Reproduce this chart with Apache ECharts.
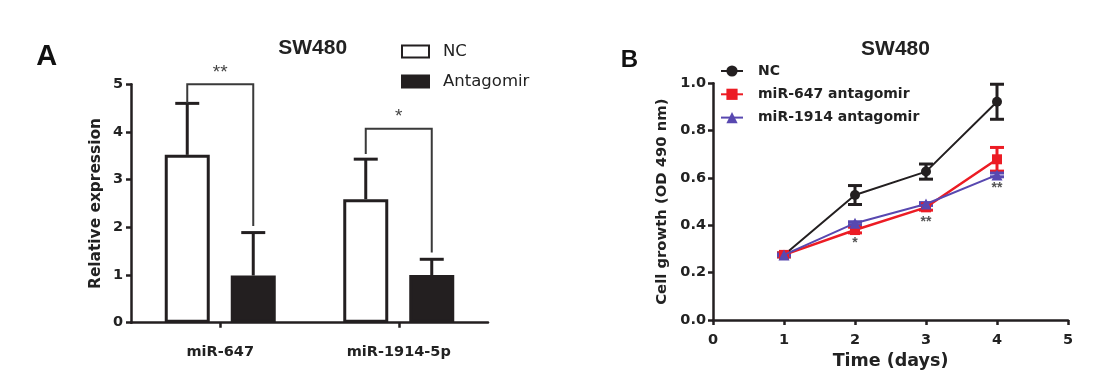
<!DOCTYPE html>
<html>
<head>
<meta charset="utf-8">
<script src="https://cdn.jsdelivr.net/npm/echarts@6/dist/echarts.min.js"></script>
<style>html,body{margin:0;padding:0;background:#fff}#c{width:1100px;height:391px}</style>
</head>
<body>
<div id="c"></div>
<script>
// ---------- Panel A data ----------
const categories = ['miR-647', 'miR-1914-5p'];
const ncMean = [3.52, 2.59];
const ncUpper = [4.60, 3.43];
const antMean = [0.99, 1.00];
const antUpper = [1.89, 1.33];
const yTicksA = [0, 1, 2, 3, 4, 5];
// significance brackets: top level, left leg end, right leg end, label
const bracketTop = [5.0, 4.07];
const bracketLeftEnd = [4.6, 3.54];
const bracketRightEnd = [2.03, 1.47];
const bracketStars = ['**', '*'];

// ---------- Panel B data ----------
const days = [1, 2, 3, 4];
const ncGrowth = [0.275, 0.528, 0.627, 0.922];
const ncSD = [0.008, 0.040, 0.032, 0.074];
const m647Growth = [0.275, 0.380, 0.476, 0.679];
const m647SD = [0.008, 0.012, 0.012, 0.050];
const m1914Growth = [0.275, 0.409, 0.490, 0.613];
const m1914SD = [0.004, 0.006, 0.006, 0.008];
const starDays = [2, 3, 4];
const starLevel = [0.325, 0.415, 0.556];
const starText = ['*', '**', '**'];

const FONT = '"DejaVu Sans", sans-serif';
const TFONT = '"Liberation Sans", Arial, sans-serif';
const BLACK = '#231f20';
const RED = '#ec1c24';
const BLUE = '#5848b0';
const TXT = '#222';

const barWidth = 45;
const barGapPx = 21;
const barOffset = (barWidth + barGapPx) / 2;

const chart = echarts.init(document.getElementById('c'));

function errA(side) {
  return function (params, api) {
    const cat = api.value(0);
    const p0 = api.coord([cat, api.value(1)]);
    const p1 = api.coord([cat, api.value(2)]);
    const x = p0[0] + side * barOffset;
    const cap = 12;
    return {
      type: 'group',
      children: [
        { type: 'line', shape: { x1: x, y1: p0[1], x2: x, y2: p1[1] }, style: { stroke: BLACK, lineWidth: 3 } },
        { type: 'line', shape: { x1: x - cap, y1: p1[1], x2: x + cap, y2: p1[1] }, style: { stroke: BLACK, lineWidth: 3 } }
      ]
    };
  };
}

function bracketRender(params, api) {
  const cat = api.value(0);
  const top = api.coord([cat, api.value(1)]);
  const l = api.coord([cat, api.value(2)]);
  const r = api.coord([cat, api.value(3)]);
  const xl = top[0] - barOffset;
  const xr = top[0] + barOffset;
  const st = { stroke: '#3a3a3a', lineWidth: 2, fill: null };
  return {
    type: 'group',
    children: [
      { type: 'polyline', shape: { points: [[xl, l[1]], [xl, top[1]], [xr, top[1]], [xr, r[1]]] }, style: st },
      { type: 'text', style: { text: bracketStars[params.dataIndex], x: top[0], y: top[1] - 2, align: 'center', verticalAlign: 'bottom', fill: '#444', font: '19px ' + TFONT } }
    ]
  };
}

function errB(color) {
  return function (params, api) {
    const x = api.value(0);
    const m = api.value(1);
    const sd = api.value(2);
    const a = api.coord([x, m + sd]);
    const b = api.coord([x, m - sd]);
    const cap = 7;
    const st = { stroke: color, lineWidth: 3 };
    return {
      type: 'group',
      children: [
        { type: 'line', shape: { x1: a[0], y1: a[1], x2: b[0], y2: b[1] }, style: st },
        { type: 'line', shape: { x1: a[0] - cap, y1: a[1], x2: a[0] + cap, y2: a[1] }, style: st },
        { type: 'line', shape: { x1: b[0] - cap, y1: b[1], x2: b[0] + cap, y2: b[1] }, style: st }
      ]
    };
  };
}

function starRender(params, api) {
  const p = api.coord([api.value(0), api.value(1)]);
  return { type: 'text', style: { text: starText[params.dataIndex], x: p[0], y: p[1], align: 'center', verticalAlign: 'middle', fill: '#555', font: 'bold 14px ' + TFONT } };
}

const axisLineStyle = { lineStyle: { color: BLACK, width: 2.5 } };
const axisTickStyle = { show: true, length: 5, lineStyle: { color: BLACK, width: 2.5 } };
const tickFont = { fontSize: 14.5, fontWeight: 'bold', color: TXT, fontFamily: FONT };

const option = {
  animation: false,
  backgroundColor: '#fff',
  textStyle: { fontFamily: FONT },
  title: [
    { text: 'SW480', left: 307.7, top: 32.5, textAlign: 'center', textStyle: { fontSize: 21, fontWeight: 'bold', color: TXT, fontFamily: TFONT } },
    { text: 'SW480', left: 890.5, top: 33.5, textAlign: 'center', textStyle: { fontSize: 21, fontWeight: 'bold', color: TXT, fontFamily: TFONT } }
  ],
  graphic: [
    { type: 'text', style: { text: 'A', x: 46.7, y: 57, align: 'center', verticalAlign: 'middle', font: 'bold 29px ' + TFONT, fill: '#111' } },
    { type: 'text', style: { text: 'B', x: 629.5, y: 60, align: 'center', verticalAlign: 'middle', font: 'bold 24px ' + TFONT, fill: '#111' } }
  ],
  legend: [
    {
      data: ['NC', 'Antagomir'], orient: 'vertical', left: 396, top: 38,
      itemWidth: 27, itemHeight: 12, itemGap: 13, icon: 'rect',
      textStyle: { fontSize: 16.5, color: TXT, padding: [0, 0, 0, 9], fontFamily: FONT }
    },
    {
      data: ['NC ', 'miR-647 antagomir', 'miR-1914 antagomir'], orient: 'vertical', left: 715, top: 59,
      itemWidth: 22, itemHeight: 14, itemGap: 9.3,
      textStyle: { fontSize: 14, fontWeight: 'bold', color: TXT, padding: [0, 0, 0, 10], fontFamily: FONT }
    }
  ],
  grid: [
    { left: 131, right: 612, top: 84.3, bottom: 68.3 },
    { left: 713, right: 32, top: 83.3, bottom: 71 }
  ],
  xAxis: [
    {
      type: 'category', gridIndex: 0, data: categories,
      axisLine: axisLineStyle,
      axisTick: Object.assign({ alignWithLabel: true }, axisTickStyle),
      axisLabel: Object.assign({ margin: 22 }, tickFont)
    },
    {
      type: 'value', gridIndex: 1, min: 0, max: 5, interval: 1,
      name: 'Time (days)', nameLocation: 'middle', nameGap: 31,
      nameTextStyle: { fontSize: 17.5, fontWeight: 'bold', color: TXT, fontFamily: FONT },
      axisLine: axisLineStyle, axisTick: axisTickStyle, splitLine: { show: false },
      axisLabel: Object.assign({ margin: 13 }, tickFont)
    }
  ],
  yAxis: [
    {
      type: 'value', gridIndex: 0, min: yTicksA[0], max: yTicksA[yTicksA.length - 1], interval: 1,
      name: 'Relative expression', nameLocation: 'middle', nameGap: 28,
      nameTextStyle: { fontSize: 15.4, fontWeight: 'bold', color: TXT, fontFamily: FONT },
      axisLine: { show: true, lineStyle: { color: BLACK, width: 2.5 } }, axisTick: axisTickStyle, splitLine: { show: false },
      axisLabel: Object.assign({ margin: 8 }, tickFont)
    },
    {
      type: 'value', gridIndex: 1, min: 0, max: 1, interval: 0.2,
      name: 'Cell growth (OD 490 nm)', nameLocation: 'middle', nameGap: 43,
      nameTextStyle: { fontSize: 14.8, fontWeight: 'bold', color: TXT, fontFamily: FONT },
      axisLine: { show: true, lineStyle: { color: BLACK, width: 2.5 } }, axisTick: axisTickStyle, splitLine: { show: false },
      axisLabel: Object.assign({ margin: 7, formatter: v => v.toFixed(1) }, tickFont)
    }
  ],
  series: [
    {
      name: 'NC', type: 'bar', xAxisIndex: 0, yAxisIndex: 0, data: ncMean,
      barWidth: barWidth, barGap: (barGapPx / barWidth * 100) + '%',
      itemStyle: { color: '#fff', borderColor: BLACK, borderWidth: 3 }
    },
    {
      name: 'Antagomir', type: 'bar', xAxisIndex: 0, yAxisIndex: 0, data: antMean,
      barWidth: barWidth,
      itemStyle: { color: BLACK, borderColor: BLACK, borderWidth: 3 }
    },
    {
      type: 'custom', xAxisIndex: 0, yAxisIndex: 0, renderItem: errA(-1), z: 5,
      data: categories.map((c, i) => [i, ncMean[i], ncUpper[i]])
    },
    {
      type: 'custom', xAxisIndex: 0, yAxisIndex: 0, renderItem: errA(1), z: 5,
      data: categories.map((c, i) => [i, antMean[i], antUpper[i]])
    },
    {
      type: 'custom', xAxisIndex: 0, yAxisIndex: 0, renderItem: bracketRender, z: 5,
      data: categories.map((c, i) => [i, bracketTop[i], bracketLeftEnd[i], bracketRightEnd[i]])
    },
    // Panel B
    {
      type: 'custom', xAxisIndex: 1, yAxisIndex: 1, renderItem: errB(BLACK), z: 3,
      data: days.map((d, i) => [d, ncGrowth[i], ncSD[i]])
    },
    {
      type: 'custom', xAxisIndex: 1, yAxisIndex: 1, renderItem: errB(RED), z: 3,
      data: days.map((d, i) => [d, m647Growth[i], m647SD[i]])
    },
    {
      type: 'custom', xAxisIndex: 1, yAxisIndex: 1, renderItem: errB(BLUE), z: 3,
      data: days.map((d, i) => [d, m1914Growth[i], m1914SD[i]])
    },
    {
      name: 'NC ', type: 'line', xAxisIndex: 1, yAxisIndex: 1, z: 4,
      data: days.map((d, i) => [d, ncGrowth[i]]),
      symbol: 'circle', symbolSize: 10, color: BLACK,
      lineStyle: { color: BLACK, width: 2 }, itemStyle: { color: BLACK }
    },
    {
      name: 'miR-647 antagomir', type: 'line', xAxisIndex: 1, yAxisIndex: 1, z: 4,
      data: days.map((d, i) => [d, m647Growth[i]]),
      symbol: 'rect', symbolSize: 10, color: RED,
      lineStyle: { color: RED, width: 2.5 }, itemStyle: { color: RED }
    },
    {
      name: 'miR-1914 antagomir', type: 'line', xAxisIndex: 1, yAxisIndex: 1, z: 5,
      data: days.map((d, i) => [d, m1914Growth[i]]),
      symbol: 'triangle', symbolSize: 11, color: BLUE,
      lineStyle: { color: BLUE, width: 2 }, itemStyle: { color: BLUE }
    },
    {
      type: 'custom', xAxisIndex: 1, yAxisIndex: 1, renderItem: starRender, z: 6,
      data: starDays.map((d, i) => [d, starLevel[i]])
    }
  ]
};
chart.setOption(option);
</script>
</body>
</html>
